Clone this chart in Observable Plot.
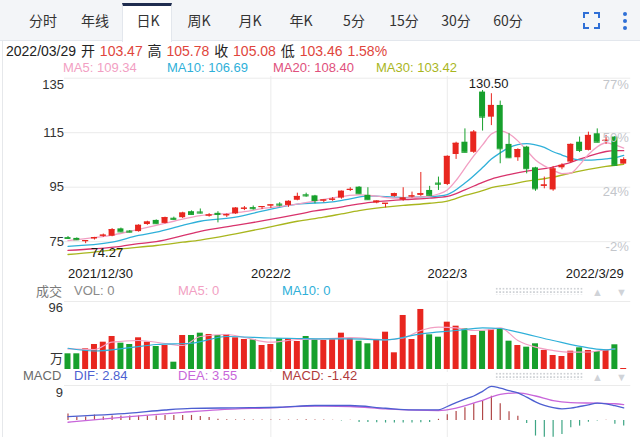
<!DOCTYPE html>
<html><head><meta charset="utf-8">
<script src="https://cdn.jsdelivr.net/npm/d3@7"></script>
<script src="https://cdn.jsdelivr.net/npm/@observablehq/plot@0.6"></script>
<style>
html,body{margin:0;padding:0;background:#fff;}
#wrap{position:relative;width:640px;height:437px;overflow:hidden;font-family:'Liberation Sans','Noto Sans CJK SC',sans-serif;}
.abs{position:absolute;white-space:nowrap;line-height:16px;font-size:13px;}
.tabbar{position:absolute;left:0;top:0;width:640px;height:41px;background:#f3f5f8;border-bottom:1px solid #e3e7ed;box-sizing:border-box;}
.active{position:absolute;left:122px;top:3px;width:50px;height:39px;background:#fff;border-top:3px solid #1e2c4f;border-left:1px solid #e3e7ed;border-right:1px solid #e3e7ed;box-sizing:border-box;}
.tab{position:absolute;top:11px;line-height:18px;font-size:14px;color:#333;transform:translateX(-50%);font-family:'Noto Sans CJK SC','Liberation Sans',sans-serif;white-space:nowrap;}
.cn{font-family:'Noto Sans CJK SC',sans-serif;}
.dots{position:absolute;width:88px;height:8px;background-image:radial-gradient(circle,#cfd2d6 0.8px,transparent 1.1px);background-size:3.4px 3.4px;}
.tri{position:absolute;font-size:11px;color:#d0d3d8;line-height:12px;}
.pane{position:absolute;left:0;}
</style></head>
<body><div id="wrap">
<div class="tabbar"></div>
<div class="active"></div>
<div id="tabs"></div>
<svg style="position:absolute;left:583px;top:12px" width="17" height="17" viewBox="0 0 17 17" fill="none" stroke="#2f6fd6" stroke-width="2">
<path d="M1 6V1h5M11 1h5v5M16 11v5h-5M6 16H1v-5"/></svg>
<svg style="position:absolute;left:621px;top:11px" width="8" height="20"><circle cx="4" cy="3" r="2" fill="#2f6fd6"/><circle cx="4" cy="10" r="2" fill="#2f6fd6"/><circle cx="4" cy="17" r="2" fill="#2f6fd6"/></svg>
<div class="abs" id="hdr" style="left:6px;top:42px;font-size:14px;word-spacing:1px;"></div>
<div id="maLeg"></div>
<div class="pane" id="price" style="top:70px"></div>
<div id="volLeg"></div>
<div class="dots" style="left:495px;top:287px"></div>
<div class="tri" style="left:592px;top:286px">▲</div><div class="tri" style="left:616px;top:286px">▼</div>
<div class="pane" id="vol" style="top:285px"></div>
<div id="macdLeg"></div>
<div class="dots" style="left:495px;top:372px"></div>
<div class="tri" style="left:592px;top:371px">▲</div><div class="tri" style="left:616px;top:371px">▼</div>
<div class="pane" id="macd" style="top:383px"></div>
<div style="position:absolute;left:2px;top:41px;width:1px;height:396px;background:#e6e8eb"></div>
</div>
<script>
// ---------- data ----------
const tabs = ["分时","年线","日K","周K","月K","年K","5分","15分","30分","60分"];
const tabX = [43,95,148,199,250,301,354,404,456,508];

const open  = [76.5,76.2,75.0,76.0,77.0,77.0,79.7,78.9,78.7,81.3,82.8,81.7,83.6,83.8,86.0,85.9,84.4,85.4,84.5,85.2,86.9,87.5,87.5,88.1,88.8,88.3,90.2,92.2,91.8,89.9,90.2,91.0,93.8,95.0,92.0,89.2,88.7,91.6,90.3,91.4,92.0,93.8,96.5,96.0,107.0,111.5,107.8,129.9,120.7,125.0,110.7,105.8,109.7,102.1,95.3,94.0,102.1,104.2,111.5,108.5,114.6,111.8,113.4,103.47];
const high  = [76.9,76.4,75.4,76.6,77.8,79.8,80.0,79.1,81.2,82.5,83.0,84.0,84.0,85.8,86.3,87.0,85.3,86.0,85.2,87.5,87.9,88.1,87.8,88.5,89.3,90.0,92.8,92.8,92.0,90.3,91.2,93.6,94.8,95.2,94.8,90.0,89.0,92.8,94.8,93.2,100.4,95.3,98.7,106.5,111.5,116.4,115.8,130.5,129.3,126.6,114.6,109.1,110.0,102.3,98.7,102.6,103.6,110.9,113.4,115.2,116.4,114.0,113.6,105.78];
const low   = [75.8,75.4,74.27,75.6,76.6,76.8,78.3,78.2,78.5,81.0,81.4,81.5,82.9,83.5,84.8,85.2,84.0,81.9,83.9,85.0,86.4,86.6,86.8,87.2,87.8,87.6,90.0,91.3,88.9,89.3,89.8,90.6,93.4,92.4,90.2,88.9,87.4,91.3,89.8,91.0,91.6,91.8,93.8,95.6,105.2,107.6,107.4,115.6,117.6,103.6,105.5,104.5,99.9,93.5,94.4,93.5,101.4,103.9,107.7,108.3,111.3,110.7,102.8,103.46];
const close = [76.2,75.7,75.4,76.5,77.4,79.4,78.6,78.5,81.0,82.2,81.6,83.8,83.2,85.5,85.0,85.5,84.8,85.0,84.9,87.3,87.3,87.1,87.9,88.5,88.4,89.8,91.6,91.8,90.1,90.3,90.6,93.5,94.2,92.6,90.4,89.9,89.1,92.6,91.0,91.8,92.6,92.0,96.1,106.3,111.1,107.8,115.2,120.7,125.0,109.1,105.8,108.8,101.8,94.4,95.8,101.7,103.0,110.7,108.5,114.0,111.5,112.2,103.0,105.08];
const volume = [25.1,25.1,33.1,40,43.7,52.8,42.1,40,50.7,43.7,36.8,38.4,11.7,54.4,54.4,58.1,56,54.4,56,50.7,48,47.5,38.4,40,49.1,49.1,44.8,52.8,47.5,46.4,47.5,58.1,49.1,45.3,41.1,47.5,59.7,26.7,86.4,48,96,55.5,51.7,75.7,69.3,65.1,54.4,61.3,63.5,65.1,45.3,38.4,35.7,41.1,30.4,22.4,20.8,29.3,34.7,30.4,28.8,31.5,39.5,1.6];

const ma5Idx = [0,3,5,7,10,12,15,18,20,22,25,28,30,33,35,37,39,41,42,43,44,45,46,47,48,49,50,51,52,53,54,55,56,57,58,59,60,61,62,63];
const ma5    = [75.4,76.5,77.4,78.8,81.0,82.5,84.6,85.3,86.0,87.1,88.3,89.9,91.1,92.2,91.7,91.0,91.2,91.7,92.5,94.0,97.5,102.0,106.5,110.5,114.5,115.7,114.6,112.0,108.5,105.0,102.8,101.2,100.0,100.2,103.2,107.0,109.8,111.3,110.5,109.34];
const ma10Idx = [0,5,8,10,13,15,19,22,26,30,32,34,38,41,43,45,47,48,49,50,51,52,53,54,55,56,57,58,59,60,61,62,63];
const ma10    = [73.3,74.8,77.3,78.5,81.0,82.5,84.0,86.2,88.8,89.6,90.7,91.8,91.2,91.5,92.3,96.5,102.2,105.3,107.6,109.5,110.6,111.0,110.5,109.6,108.0,106.8,105.6,105.0,104.9,105.1,105.4,105.8,106.69];
const ma20Idx = [0,3,6,8,10,13,15,19,22,26,28,30,32,34,38,41,43,45,47,48,50,52,54,55,56,57,58,59,60,61,62,63];
const ma20    = [71.8,72.4,73.3,74.3,75.0,77.2,78.8,81.0,82.6,85.0,86.3,87.2,88.3,89.3,90.4,91.0,91.6,94.0,96.8,98.0,99.6,100.9,101.8,102.4,103.2,104.1,105.3,106.3,107.3,108.1,108.4,108.40];
const ma30Idx = [0,3,6,10,13,15,19,22,26,29,31,33,38,41,43,45,47,48,50,52,54,55,57,58,60,61,63];
const ma30    = [70.3,71.2,72.3,73.6,74.8,75.6,77.9,79.8,82.5,84.0,85.2,86.4,88.3,89.1,89.9,92.0,93.7,94.8,95.9,97.2,98.1,98.7,100.2,100.9,102.1,102.6,103.42];

const volMa5Idx = [0,3,5,8,11,13,15,18,20,23,26,29,32,36,38,40,42,44,46,48,49,51,53,55,57,59,61,62];
const volMa5    = [33,32,43.7,46.4,41.6,38.4,52.8,56,51.2,43.7,48,49,51,47.5,50.4,62.4,67.7,66.7,62.4,64,66.7,46.4,35.7,30.4,27.7,28,31.5,33];
const volMa10Idx = [0,3,7,10,14,18,23,26,29,32,36,40,44,47,49,51,55,59,61,62];
const volMa10    = [34,29.6,35,40,42,52.8,50.4,49.6,49,49,47.5,57,62.4,66.7,65.6,59.7,46.4,34.7,31.5,33];

const difIdx = [0,7,11,14,19,24,28,32,36,39,42,43,44,45,46,47,48,49,50,51,52,53,54,55,56,57,58,59,60,61,62,63];
const dif    = [1.0,1.9,2.7,3.1,3.25,3.4,3.85,3.85,3.15,2.75,2.75,3.6,4.6,5.5,6.3,7.5,8.8,8.3,7.7,7.1,6.0,4.8,3.9,3.3,3.0,3.2,3.6,4.0,4.45,4.3,3.8,3.26];
const deaIdx = [0,7,13,17,23,28,32,36,42,44,47,49,51,53,55,57,60,62,63];
const dea    = [-0.45,1.0,2.1,2.75,3.25,3.68,3.6,3.0,2.57,3.2,5.2,6.7,7.1,6.3,5.1,4.6,4.45,4.3,4.1];
const macdHist = [1.67,0.9,0.9,1.4,0.9,1.15,1.15,1.15,1.15,1.15,1.15,1.3,1.3,1.3,1.3,1.0,0.8,0.3,0.2,0.15,0.15,0.12,0.12,0.12,0.12,0.12,0.15,0.2,0.15,0.1,0.08,-0.12,0.08,-0.5,-0.55,-0.6,-0.65,-0.65,-0.65,-0.65,-0.6,-0.5,0.3,1.5,2.3,3.25,4.3,5.1,6.25,4.3,2.25,1.1,-0.75,-4.0,-4.3,-4.3,-3.6,-1.9,-1.45,-0.45,-0.12,0.05,-1.0,-1.45];

const priceTicks = [135,115,95,75];
const pctLabels = ["77%","50%","24%","-2%"];
const dateTickIdx = [0,23,43,63];
const dateLabels = ["2021/12/30","2022/2","2022/3","2022/3/29"];
const gridIdx = [23,43];

// ---------- style ----------
const RED = "#e8261f", GREEN = "#17a02c";
const C5 = "#f29fc3", C10 = "#2fb0d9", C20 = "#d8336c", C30 = "#a9b61e";
const CDIF = "#4d5fd1", CDEA = "#c866da";
const GRID = "#ebebeb";
const FONT = "'Liberation Sans','Noto Sans CJK SC',sans-serif";
const W = 640, ML = 67.5, MR = 16.8;
const nDays = close.length;
const xDomain = [0, nDays - 1];
const half = 0.34;
const candles = close.map((c, i) => ({i, o: open[i], h: high[i], l: low[i], c, v: volume[i], col: c >= open[i] ? RED : GREEN}));
const pts = (ix, vs) => ix.map((i, k) => ({i, v: vs[k]}));
const baseStyle = {fontFamily: FONT, fontSize: "13px", background: "transparent", overflow: "visible"};

// ---------- HTML text ----------
const tabsEl = document.getElementById("tabs");
tabs.forEach((t, k) => { const s = document.createElement("div"); s.className = "tab"; s.style.left = tabX[k] + "px"; s.textContent = t; tabsEl.appendChild(s); });

const red = v => `<span style="color:#e0453c">${v}</span>`;
const cn = v => `<span class="cn" style="color:#222">${v}</span>`;
document.getElementById("hdr").innerHTML =
  `<span style="color:#222">2022/03/29</span> ${cn("开")} ${red(open[nDays-1].toFixed(2))} ${cn("高")} ${red(high[nDays-1].toFixed(2))} ${cn("收")} ${red(close[nDays-1].toFixed(2))} ${cn("低")} ${red(low[nDays-1].toFixed(2))} ${red("1.58%")}`;

function legend(elId, items, top) {
  const el = document.getElementById(elId);
  items.forEach(([txt, col, x, isCn]) => {
    const s = document.createElement("div");
    s.className = "abs" + (isCn ? " cn" : "");
    s.style.left = x + "px"; s.style.top = top + "px"; s.style.color = col; s.textContent = txt;
    el.appendChild(s);
  });
}
legend("maLeg", [["MA5: " + ma5[ma5.length-1].toFixed(2), C5, 63], ["MA10: " + ma10[ma10.length-1].toFixed(2), C10, 167], ["MA20: " + ma20[ma20.length-1].toFixed(2), "#e0507c", 273], ["MA30: " + ma30[ma30.length-1].toFixed(2), C30, 376]], 60);
legend("volLeg", [["成交", "#7a7a7a", 36, true], ["VOL: 0", "#8a8a8a", 74], ["MA5: 0", C5, 178], ["MA10: 0", C10, 282]], 283);
legend("macdLeg", [["MACD", "#6a6a6a", 23], ["DIF: 2.84", CDIF, 74], ["DEA: 3.55", CDEA, 178], ["MACD: -1.42", "#b03a3a", 282]], 368);

// ---------- price pane ----------
const hiIdx = high.indexOf(d3.max(high));
const loIdx = low.indexOf(d3.min(low));
const maLine = (ix, vs, col) => Plot.line(pts(ix, vs), {x: "i", y: "v", stroke: col, strokeWidth: 1.3, curve: "monotone-x"});
const dateText = (k, anchor) => Plot.text([dateTickIdx[k]], {x: d => d, text: [dateLabels[k]], frameAnchor: "bottom", dy: 23, textAnchor: anchor, fill: "#1a1a1a", stroke: "white", strokeWidth: 5, paintOrder: "stroke"});

const pricePlot = Plot.plot({
  width: W, height: 215, marginLeft: ML, marginRight: MR, marginTop: 7.7, marginBottom: 30.2,
  x: {domain: xDomain, axis: null},
  y: {domain: [70, 135], axis: null},
  color: {type: "identity"},
  style: baseStyle,
  marks: [
    Plot.ruleY(priceTicks, {x1: -0.4, x2: nDays - 0.2, stroke: GRID}),
    Plot.ruleX(gridIdx, {stroke: GRID, insetTop: -1.7, insetBottom: -30.2}),
    maLine(ma30Idx, ma30, C30),
    maLine(ma20Idx, ma20, C20),
    maLine(ma10Idx, ma10, C10),
    maLine(ma5Idx, ma5, C5),
    Plot.ruleX(candles, {x: "i", y1: "l", y2: "h", stroke: "col", strokeWidth: 1}),
    Plot.rect(candles, {x1: d => d.i - half, x2: d => d.i + half, y1: "o", y2: "c", fill: "col"}),
    Plot.ruleY(candles, {x1: d => d.i - half, x2: d => d.i + half, y: "c", stroke: "col"}),
    Plot.axisY([priceTicks[0]], {anchor: "left", label: null, tickSize: 0, tickPadding: 4, dy: 7, fill: "#333", fontSize: 13}),
    Plot.axisY(priceTicks.slice(1), {anchor: "left", label: null, tickSize: 0, tickPadding: 4, fill: "#333", fontSize: 13}),
    Plot.text([priceTicks[0]], {y: d => d, text: [pctLabels[0]], frameAnchor: "right", textAnchor: "end", dx: 5, dy: 7, fill: "#c3c6cb"}),
    Plot.text(priceTicks.slice(1), {y: d => d, text: pctLabels.slice(1), frameAnchor: "right", textAnchor: "end", dx: 5, dy: 5, fill: "#c3c6cb"}),
    dateText(0, "start"), dateText(1, "middle"), dateText(2, "middle"), dateText(3, "end"),
    Plot.text([hiIdx], {x: d => d, y: d => high[d], text: d => high[d].toFixed(2), dx: 6, dy: -7, fill: "#1a1a1a"}),
    Plot.text([loIdx], {x: d => d, y: d => low[d], text: d => low[d].toFixed(2), textAnchor: "start", dx: 5, dy: 9, fill: "#1a1a1a"})
  ]
});
document.getElementById("price").appendChild(pricePlot);

// ---------- volume pane ----------
const volMax = d3.max(volume);
const volPlot = Plot.plot({
  width: W, height: 87, marginLeft: ML, marginRight: MR, marginTop: 16, marginBottom: 3,
  x: {domain: xDomain, axis: null},
  y: {domain: [0, volMax * 1.133], axis: null},
  color: {type: "identity"},
  style: baseStyle,
  marks: [
    Plot.ruleY([volMax * 1.133], {x1: -0.4, x2: nDays - 0.2, stroke: GRID}),
    Plot.ruleX(gridIdx, {stroke: GRID, insetTop: -16, insetBottom: -3}),
    Plot.rectY(candles, {x1: d => d.i - half, x2: d => d.i + half, y: "v", fill: "col"}),
    Plot.line(pts(volMa5Idx, volMa5), {x: "i", y: "v", stroke: C5, strokeWidth: 1.2, curve: "monotone-x"}),
    Plot.line(pts(volMa10Idx, volMa10), {x: "i", y: "v", stroke: C10, strokeWidth: 1.2, curve: "monotone-x"}),
    Plot.axisY([volMax], {anchor: "left", label: null, tickSize: 0, tickPadding: 5, dy: -2, fill: "#333", fontSize: 13}),
    Plot.text(["万"], {frameAnchor: "bottom-left", textAnchor: "end", dx: -5, dy: -7, fill: "#333", fontFamily: "'Noto Sans CJK SC',sans-serif"})
  ]
});
document.getElementById("vol").appendChild(volPlot);

// ---------- MACD pane ----------
const macdTop = Math.ceil(d3.max(dif));
const histData = macdHist.map((v, i) => ({i, v, col: v >= 0 ? "#b04848" : "#3ea584"}));
const macdPlot = Plot.plot({
  width: W, height: 54, marginLeft: ML, marginRight: MR, marginTop: 2, marginBottom: 0.3,
  x: {domain: xDomain, axis: null},
  y: {domain: [-4.3, macdTop], axis: null},
  color: {type: "identity"},
  style: baseStyle,
  marks: [
    Plot.ruleY([macdTop], {x1: -0.4, x2: nDays - 0.2, stroke: GRID}),
    Plot.ruleX(gridIdx, {stroke: GRID, insetTop: -2, insetBottom: -0.3}),
    Plot.ruleX(histData, {x: "i", y1: 0, y2: "v", stroke: "col", strokeWidth: 1.2}),
    Plot.line(pts(deaIdx, dea), {x: "i", y: "v", stroke: CDEA, strokeWidth: 1.3, curve: "monotone-x"}),
    Plot.line(pts(difIdx, dif), {x: "i", y: "v", stroke: CDIF, strokeWidth: 1.3, curve: "monotone-x"}),
    Plot.axisY([macdTop], {anchor: "left", label: null, tickSize: 0, tickPadding: 5, dy: 7, fill: "#333", fontSize: 13})
  ]
});
document.getElementById("macd").appendChild(macdPlot);
</script>
</body></html>
